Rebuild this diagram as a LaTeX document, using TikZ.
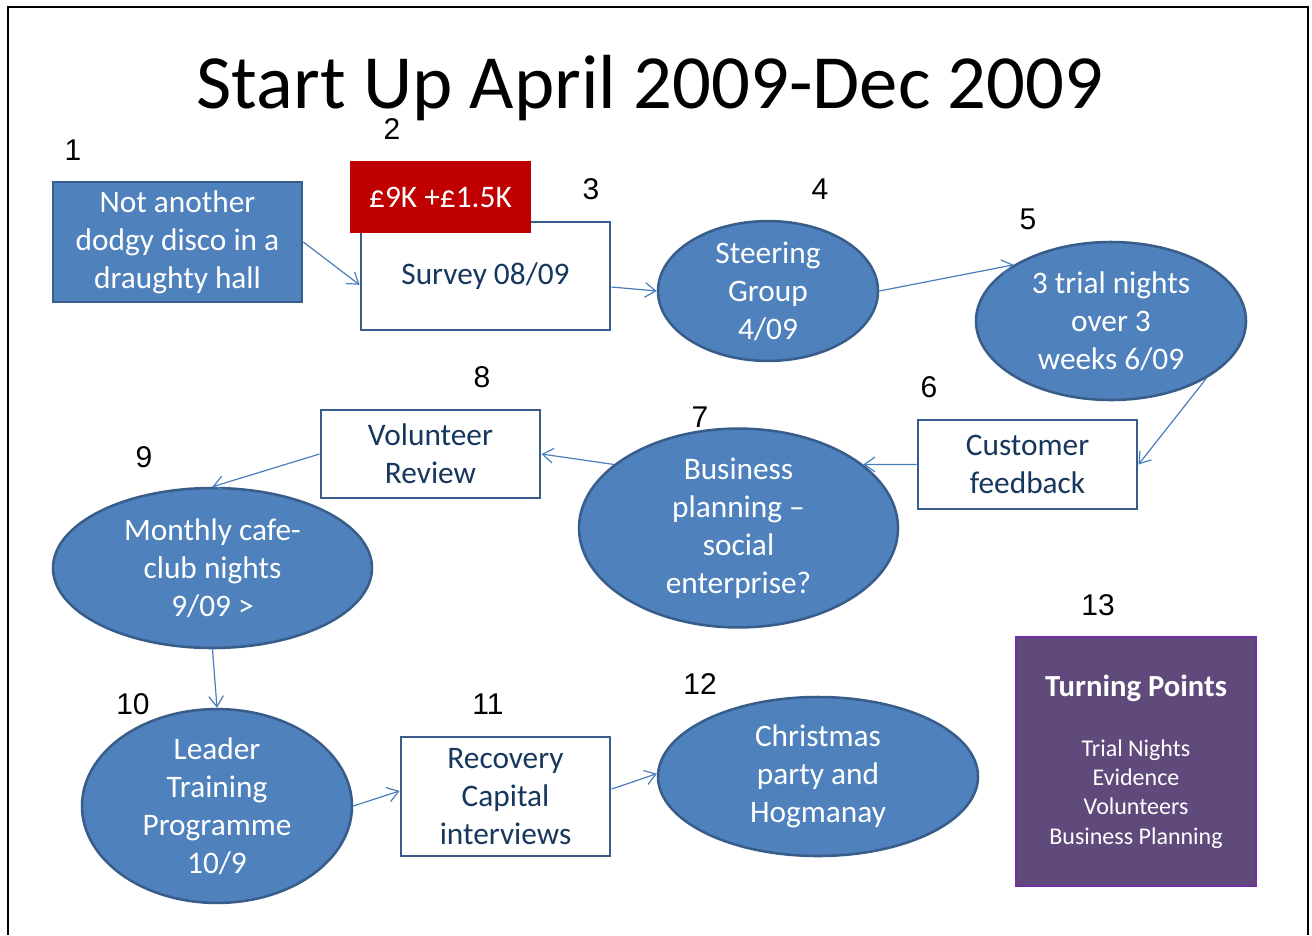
\documentclass[tikz,border=0pt]{standalone}
\usepackage{fontspec}
\setmainfont{Carlito}
\newfontfamily\numfont{Liberation Sans}
\usetikzlibrary{positioning,shapes.geometric,arrows.meta}
\definecolor{ppblue}{HTML}{4F81BD}
\definecolor{ppline}{HTML}{385D8A}
\definecolor{pptext}{HTML}{17375E}
\definecolor{pparrow}{HTML}{4A7EBB}
\definecolor{ppred}{HTML}{C00000}
\definecolor{pppurple}{HTML}{604A7B}
\definecolor{ppedge}{HTML}{7030A0}
\tikzset{
	every node/.style={inner sep=0pt,align=center,font=\fontsize{23.5}{28.5}\selectfont},
	bluebox/.style={rectangle,fill=ppblue,draw=ppline,line width=1.9pt,text=white},
	whitebox/.style={rectangle,fill=white,draw=ppline,line width=2.2pt,text=pptext},
	blueoval/.style={ellipse,fill=ppblue,draw=ppline,line width=1.9pt,text=white},
	num/.style={font=\numfont\fontsize{22.5}{26}\selectfont},
	flow/.style={draw=pparrow,line width=0.9pt,-{Straight Barb[length=8pt,width=11pt]}}
}
\begin{document}
\begin{tikzpicture}[x=0.75pt,y=-0.75pt]
	\useasboundingbox (0,0) rectangle (1312,935);
	\draw[line width=1.5pt](8,935)--(8,7)--(1308,7)--(1308,935);
	\node[anchor=base,font=\fontsize{57.5}{69}\selectfont](title) at (650,108){Start Up April 2009-Dec 2009};
	\node[bluebox,minimum width=186.75pt,minimum height=90pt](disco) at (177.5,242){Not another\\dodgy disco in a\\draughty hall};
	\node[whitebox,minimum width=186.75pt,minimum height=81pt](survey) at (485.5,276){Survey 08/09};
	\node[rectangle,fill=ppred,text=white,minimum width=135.75pt,minimum height=54pt](grant) at (440.5,197){£9K +£1.5K};
	\node[blueoval,minimum width=165pt,minimum height=104.25pt](steering) at (768,291){Steering\\Group\\4/09};
	\node[blueoval,minimum width=202.5pt,minimum height=118.5pt](trial) at (1111,321){3 trial nights\\over 3\\weeks 6/09};
	\node[whitebox,minimum width=164.25pt,minimum height=66.75pt](feedback) at (1027.5,464.5){Customer\\feedback};
	\node[blueoval,minimum width=239.25pt,minimum height=120pt](business) at (738.5,528){Business\\planning --\\social\\enterprise?};
	\node[whitebox,minimum width=164.25pt,minimum height=66pt](volunteer) at (430.5,454){Volunteer\\Review};
	\node[blueoval,minimum width=239.25pt,minimum height=120pt](monthly) at (212.5,568){Monthly cafe-\\club nights\\9/09 >};
	\node[blueoval,minimum width=202.5pt,minimum height=120pt](leader) at (217,806){Leader\\Training\\Programme\\10/9};
	\node[whitebox,minimum width=156.75pt,minimum height=89.25pt](recovery) at (505.5,796.5){Recovery\\Capital\\interviews};
	\node[blueoval,minimum width=240pt,minimum height=119.25pt](xmas) at (818,776.5){Christmas\\party and\\Hogmanay};
	\node[rectangle,fill=pppurple,draw=ppedge,line width=2.2pt,text=white,minimum width=180pt,minimum height=186.75pt,font=\fontsize{18}{22}\selectfont](turning) at (1136,761.5){{\fontsize{23}{28}\selectfont\bfseries Turning Points}\\[23pt]Trial Nights\\Evidence\\Volunteers\\Business Planning};
	\node[num](l1) at (73,150){1};
	\node[num](l2) at (392,129){2};
	\node[num](l3) at (591,189){3};
	\node[num](l4) at (820,189){4};
	\node[num](l5) at (1028,219){5};
	\node[num](l6) at (929,387){6};
	\node[num](l7) at (700,417){7};
	\node[num](l8) at (482,377){8};
	\node[num](l9) at (144,457){9};
	\node[num](l10) at (133,704){10};
	\node[num](l11) at (488,704){11};
	\node[num](l12) at (700,684){12};
	\node[num](l13) at (1098,605){13};
	\draw[flow](disco.east) to (survey.184);
	\draw[flow](survey.-5) to (steering.west);
	\draw[flow](steering.east) to (trial.150);
	\draw[flow](trial.-31) to (feedback.east);
	\draw[flow](feedback.west) to (business.27);
	\draw[flow](business.153) to (volunteer.east);
	\draw[flow](volunteer.west) to (monthly.north);
	\draw[flow](monthly.south) to (leader.north);
	\draw[flow](leader.east) to (recovery.177);
	\draw[flow](recovery.4) to (xmas.179);
\end{tikzpicture}
\end{document}
